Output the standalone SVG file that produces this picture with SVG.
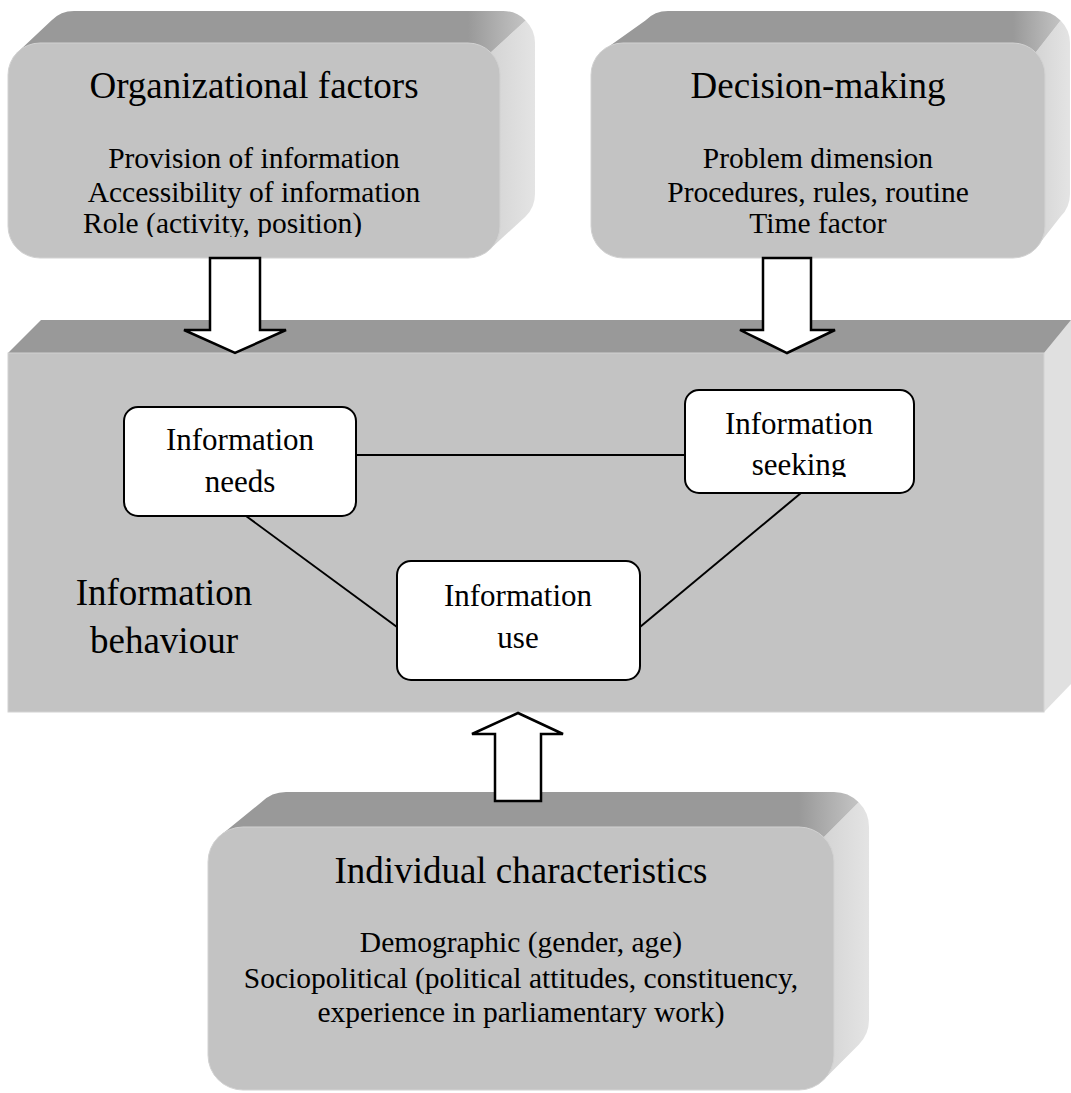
<svg xmlns="http://www.w3.org/2000/svg" width="1071" height="1093" viewBox="0 0 1071 1093">
<style>
.top{fill:#999999}
.front{fill:#c3c3c3;stroke:#d2d2d2;stroke-width:1}
.t{font-family:"Liberation Serif","Times New Roman",serif;fill:#000}
.title{font-size:37px;text-anchor:middle}
.item{font-size:29.5px;text-anchor:middle}
.node{fill:#fff;stroke:#000;stroke-width:2}
.nt{font-size:31px;text-anchor:middle}
.ln{stroke:#000;stroke-width:2;fill:none}
.arr{fill:#fff;stroke:#000;stroke-width:2.5;stroke-linejoin:miter}
</style>
<defs>
<linearGradient id="tg1" gradientUnits="userSpaceOnUse" x1="468" y1="0" x2="533" y2="0"><stop offset="0" stop-color="#999"/><stop offset="1" stop-color="#c9c9c9"/></linearGradient>
<linearGradient id="rg1" gradientUnits="userSpaceOnUse" x1="490" y1="0" x2="535" y2="0"><stop offset="0" stop-color="#d4d4d4"/><stop offset="1" stop-color="#e4e4e4"/></linearGradient>
<linearGradient id="tg2" gradientUnits="userSpaceOnUse" x1="1013" y1="0" x2="1068" y2="0"><stop offset="0" stop-color="#999"/><stop offset="1" stop-color="#c9c9c9"/></linearGradient>
<linearGradient id="rg2" gradientUnits="userSpaceOnUse" x1="1035" y1="0" x2="1070" y2="0"><stop offset="0" stop-color="#d4d4d4"/><stop offset="1" stop-color="#e4e4e4"/></linearGradient>
<linearGradient id="tg3" gradientUnits="userSpaceOnUse" x1="799" y1="0" x2="866" y2="0"><stop offset="0" stop-color="#999"/><stop offset="1" stop-color="#c9c9c9"/></linearGradient>
<linearGradient id="rg3" gradientUnits="userSpaceOnUse" x1="823" y1="0" x2="869" y2="0"><stop offset="0" stop-color="#d4d4d4"/><stop offset="1" stop-color="#e4e4e4"/></linearGradient>
<clipPath id="c1"><rect x="0" y="0" width="540" height="237"/></clipPath>
<clipPath id="c2"><rect x="680" y="380" width="240" height="97"/></clipPath>
</defs>
<rect width="1071" height="1093" fill="#fff"/>

<g id="organizational-factors">
<path d="M490.6,52.4 L525.6,20.4 A32,32 0 0 1 535,43 L535,194 A32,32 0 0 1 525.6,216.6 L490.6,248.6 Z" fill="url(#rg1)"/>
<path d="M17.4,52.4 L51.4,20.4 A32,32 0 0 1 74,11 L503,11 A32,32 0 0 1 525.6,20.4 L490.6,52.4 Z" fill="url(#tg1)"/>
<rect class="front" x="8" y="43" width="492" height="215" rx="32"/>
<text class="t title" x="254" y="98">Organizational factors</text>
<text class="t item" x="254" y="168">Provision of information</text>
<text class="t item" x="254" y="202">Accessibility of information</text>
<text class="t item" x="83" y="233" style="text-anchor:start" clip-path="url(#c1)">Role (activity, position)</text>
</g>

<g id="decision-making">
<path d="M1035.6,52.4 L1060.6,20.4 A32,32 0 0 1 1070,43 L1070,194 A32,32 0 0 1 1060.6,216.6 L1035.6,248.6 Z" fill="url(#rg2)"/>
<path d="M600.4,52.4 L645.4,20.4 A32,32 0 0 1 668,11 L1038,11 A32,32 0 0 1 1060.6,20.4 L1035.6,52.4 Z" fill="url(#tg2)"/>
<rect class="front" x="591" y="43" width="454" height="215" rx="32"/>
<text class="t title" x="818" y="98">Decision-making</text>
<text class="t item" x="818" y="168">Problem dimension</text>
<text class="t item" x="818" y="202">Procedures, rules, routine</text>
<text class="t item" x="818" y="233">Time factor</text>
</g>

<g id="information-behaviour">
<polygon points="1044,353 1071,320 1071,684 1044,712" fill="#e0e0e0"/>
<polygon class="top" points="8,353 41,320 1071,320 1044,353"/>
<rect class="front" x="8" y="353" width="1036" height="359"/>
<text class="t title" x="164" y="605">Information</text>
<text class="t title" x="164" y="653">behaviour</text>
</g>

<g id="individual-characteristics">
<path d="M823.7,837.3 L858.7,802.3 A35,35 0 0 1 869,827 L869,1020 A35,35 0 0 1 858.7,1044.7 L823.7,1079.7 Z" fill="url(#rg3)"/>
<path d="M218.3,837.3 L261.3,802.3 A35,35 0 0 1 286,792 L834,792 A35,35 0 0 1 858.7,802.3 L823.7,837.3 Z" fill="url(#tg3)"/>
<rect class="front" x="208" y="827" width="626" height="263" rx="35"/>
<text class="t title" x="521" y="883">Individual characteristics</text>
<text class="t item" x="521" y="952">Demographic (gender, age)</text>
<text class="t item" x="521" y="988">Sociopolitical (political attitudes, constituency,</text>
<text class="t item" x="521" y="1022">experience in parliamentary work)</text>
</g>

<g id="connectors">
<line class="ln" x1="356" y1="455" x2="685" y2="455"/>
<line class="ln" x1="246" y1="516" x2="397" y2="627"/>
<line class="ln" x1="801" y1="493" x2="640" y2="627"/>
<polygon class="arr" points="210,258 260,258 260,330 286,330 235,353 184,330 210,330"/>
<polygon class="arr" points="763,258 811,258 811,330 835,330 787,353 740,330 763,330"/>
<polygon class="arr" points="495,801 541,801 541,734 563,734 518,713 472,734 495,734"/>
</g>

<g id="information-needs">
<rect class="node" x="124" y="407" width="232" height="109" rx="14"/>
<text class="t nt" x="240" y="450">Information</text>
<text class="t nt" x="240" y="492">needs</text>
</g>

<g id="information-seeking">
<rect class="node" x="685" y="390" width="229" height="103" rx="14"/>
<text class="t nt" x="799" y="434">Information</text>
<text class="t nt" x="799" y="475" clip-path="url(#c2)">seeking</text>
</g>

<g id="information-use">
<rect class="node" x="397" y="561" width="243" height="119" rx="14"/>
<text class="t nt" x="518" y="606">Information</text>
<text class="t nt" x="518" y="648">use</text>
</g>
</svg>
